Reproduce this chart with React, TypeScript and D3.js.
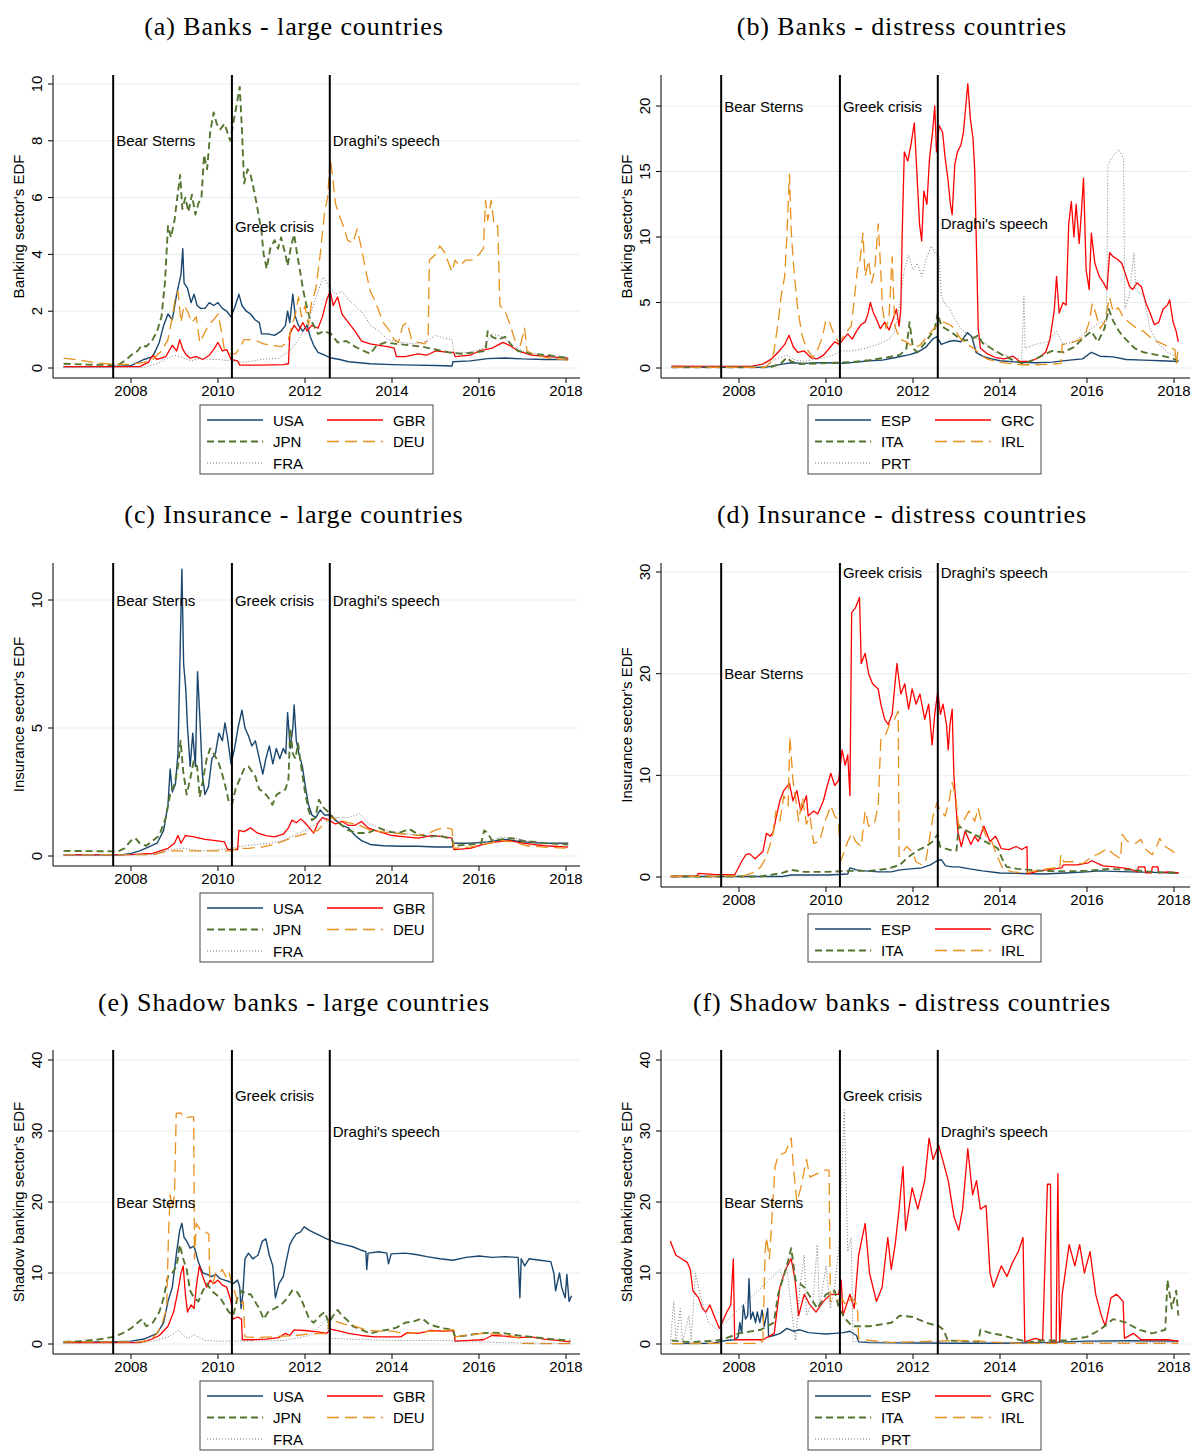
import React, { useEffect, useRef } from 'react';
import * as d3 from 'd3';

type Pt = [number, number];

// ---- (a) Banks - large countries
const aUSA: Pt[] = [[2006.45,0.05],[2007.5,0.05],[2008.0,0.08],[2008.3,0.3],[2008.5,0.4],[2008.65,0.9],[2008.75,1.5],[2008.85,1.9],[2008.95,1.7],[2009.05,2.6],[2009.15,3.3],[2009.19,4.2],[2009.22,3.0],[2009.3,2.8],[2009.38,2.3],[2009.45,2.6],[2009.52,2.2],[2009.6,2.1],[2009.7,2.1],[2009.8,2.3],[2009.9,2.2],[2010.0,2.3],[2010.1,2.1],[2010.2,2.0],[2010.3,1.8],[2010.4,2.2],[2010.48,2.6],[2010.55,2.2],[2010.65,2.0],[2010.75,1.9],[2010.85,1.7],[2010.95,1.6],[2011.0,1.2],[2011.15,1.2],[2011.3,1.15],[2011.45,1.3],[2011.55,1.5],[2011.6,2.0],[2011.65,1.6],[2011.72,2.6],[2011.78,1.8],[2011.85,1.5],[2011.95,1.3],[2012.05,1.5],[2012.12,1.1],[2012.2,0.8],[2012.3,0.55],[2012.45,0.45],[2012.6,0.35],[2012.8,0.3],[2013.0,0.22],[2013.5,0.15],[2014.0,0.12],[2014.5,0.1],[2015.0,0.09],[2015.38,0.07],[2015.4,0.22],[2015.8,0.25],[2016.2,0.33],[2016.6,0.35],[2017.0,0.32],[2017.5,0.3],[2018.05,0.3]];
const aGBR: Pt[] = [[2006.45,0.05],[2008.2,0.05],[2008.4,0.2],[2008.5,0.45],[2008.6,0.3],[2008.8,0.4],[2008.95,0.8],[2009.05,0.6],[2009.12,1.0],[2009.18,0.7],[2009.25,0.5],[2009.35,0.35],[2009.5,0.4],[2009.65,0.3],[2009.8,0.45],[2009.9,0.65],[2010.0,0.9],[2010.1,0.6],[2010.2,0.65],[2010.3,0.3],[2010.45,0.25],[2010.5,0.1],[2011.0,0.1],[2011.5,0.12],[2011.62,0.15],[2011.65,1.2],[2011.75,1.5],[2011.85,1.3],[2011.95,1.6],[2012.05,1.3],[2012.15,1.5],[2012.3,1.4],[2012.4,1.8],[2012.5,2.4],[2012.58,2.7],[2012.65,2.2],[2012.75,2.5],[2012.85,1.9],[2013.0,1.6],[2013.15,1.3],[2013.3,0.95],[2013.5,0.85],[2013.7,0.8],[2013.9,0.75],[2014.05,0.7],[2014.1,0.4],[2014.3,0.4],[2014.6,0.5],[2014.8,0.45],[2015.0,0.6],[2015.3,0.55],[2015.42,0.55],[2015.45,0.4],[2015.8,0.45],[2016.0,0.6],[2016.3,0.7],[2016.55,0.9],[2016.7,0.8],[2016.9,0.6],[2017.2,0.45],[2017.6,0.4],[2018.05,0.35]];
const aJPN: Pt[] = [[2006.45,0.15],[2007.0,0.12],[2007.7,0.1],[2007.9,0.3],[2008.0,0.45],[2008.15,0.6],[2008.25,0.8],[2008.35,0.75],[2008.5,1.0],[2008.6,1.3],[2008.7,1.8],[2008.78,3.0],[2008.85,5.0],[2008.92,4.6],[2009.0,5.2],[2009.08,6.2],[2009.13,6.8],[2009.18,5.6],[2009.25,6.0],[2009.32,5.5],[2009.4,6.1],[2009.48,5.4],[2009.55,5.8],[2009.62,6.0],[2009.68,7.5],[2009.75,7.0],[2009.82,8.3],[2009.9,9.0],[2009.97,8.6],[2010.05,8.4],[2010.15,8.6],[2010.28,8.0],[2010.35,8.6],[2010.42,9.2],[2010.5,9.9],[2010.55,8.4],[2010.6,6.5],[2010.68,7.0],[2010.75,6.8],[2010.85,6.1],[2010.92,5.5],[2011.0,4.8],[2011.05,4.0],[2011.12,3.5],[2011.2,4.2],[2011.3,4.5],[2011.38,4.2],[2011.45,4.6],[2011.55,4.0],[2011.6,3.6],[2011.68,4.3],[2011.75,4.7],[2011.82,4.0],[2011.9,3.3],[2011.95,2.8],[2012.02,2.3],[2012.1,1.8],[2012.2,1.5],[2012.3,1.2],[2012.45,1.3],[2012.6,1.2],[2012.75,0.9],[2012.95,0.95],[2013.15,0.75],[2013.35,0.6],[2013.5,0.5],[2013.65,0.8],[2013.85,0.9],[2014.1,0.85],[2014.4,0.8],[2014.7,0.75],[2015.0,0.65],[2015.3,0.55],[2015.6,0.5],[2015.9,0.55],[2016.15,0.6],[2016.2,1.3],[2016.3,1.1],[2016.45,1.0],[2016.6,1.1],[2016.75,0.8],[2016.9,0.6],[2017.2,0.5],[2017.6,0.45],[2018.05,0.35]];
const aDEU: Pt[] = [[2006.45,0.35],[2006.8,0.28],[2007.2,0.18],[2007.6,0.13],[2008.0,0.13],[2008.3,0.2],[2008.5,0.3],[2008.7,0.6],[2008.85,1.0],[2008.95,1.8],[2009.02,2.5],[2009.08,2.7],[2009.15,1.6],[2009.22,2.2],[2009.3,2.0],[2009.4,1.6],[2009.5,1.8],[2009.58,0.9],[2009.68,1.2],[2009.78,1.5],[2009.9,1.7],[2010.0,1.9],[2010.08,1.3],[2010.15,0.6],[2010.25,0.5],[2010.4,0.5],[2010.5,0.7],[2010.6,1.0],[2010.75,1.0],[2010.9,0.95],[2011.05,0.85],[2011.25,0.8],[2011.45,0.75],[2011.6,0.9],[2011.7,1.5],[2011.78,1.9],[2011.85,2.5],[2011.92,1.8],[2012.0,2.2],[2012.08,1.5],[2012.15,2.3],[2012.25,2.8],[2012.35,4.0],[2012.45,5.5],[2012.52,6.0],[2012.58,7.4],[2012.63,6.8],[2012.7,5.8],[2012.78,5.4],[2012.88,5.0],[2012.98,4.5],[2013.1,4.4],[2013.2,4.9],[2013.3,4.2],[2013.4,3.4],[2013.5,2.7],[2013.6,2.4],[2013.7,2.0],[2013.8,1.6],[2013.95,1.3],[2014.05,1.0],[2014.15,0.9],[2014.25,1.5],[2014.35,1.6],[2014.45,1.0],[2014.6,0.9],[2014.75,0.85],[2014.83,1.0],[2014.86,3.8],[2015.0,4.0],[2015.1,4.3],[2015.2,4.1],[2015.3,3.7],[2015.38,3.4],[2015.45,3.8],[2015.55,3.6],[2015.7,3.8],[2015.85,3.8],[2016.0,4.0],[2016.1,4.2],[2016.15,5.9],[2016.2,5.2],[2016.28,5.9],[2016.35,5.0],[2016.43,5.0],[2016.48,2.2],[2016.6,2.0],[2016.72,1.5],[2016.82,1.0],[2016.95,0.8],[2017.05,1.4],[2017.1,0.6],[2017.3,0.45],[2017.6,0.35],[2018.05,0.28]];
const aFRA: Pt[] = [[2006.45,0.02],[2008.3,0.02],[2008.6,0.15],[2008.85,0.35],[2009.0,0.45],[2009.2,0.35],[2009.4,0.25],[2009.6,0.35],[2009.8,0.3],[2010.0,0.3],[2010.3,0.25],[2010.6,0.2],[2011.0,0.3],[2011.4,0.35],[2011.65,0.6],[2011.85,1.0],[2012.0,1.4],[2012.15,2.0],[2012.3,2.7],[2012.42,3.2],[2012.55,2.9],[2012.7,2.6],[2012.85,2.7],[2013.0,2.4],[2013.15,2.2],[2013.35,1.9],[2013.5,1.5],[2013.7,1.3],[2013.9,1.0],[2014.2,0.9],[2014.5,0.85],[2014.8,0.95],[2015.0,1.15],[2015.2,1.05],[2015.38,1.0],[2015.42,0.55],[2015.8,0.55],[2016.1,0.7],[2016.3,1.2],[2016.55,1.1],[2016.75,0.8],[2017.0,0.6],[2017.4,0.45],[2018.05,0.35]];

// ---- (b) Banks - distress countries
const bESP: Pt[] = [[2006.45,0.05],[2008.6,0.05],[2008.85,0.2],[2009.0,0.3],[2009.2,0.4],[2009.5,0.35],[2009.8,0.4],[2010.1,0.4],[2010.4,0.35],[2010.7,0.45],[2011.0,0.55],[2011.3,0.6],[2011.6,0.8],[2011.9,1.0],[2012.1,1.2],[2012.3,1.6],[2012.45,2.2],[2012.55,2.4],[2012.65,1.8],[2012.8,2.0],[2012.95,2.1],[2013.1,2.0],[2013.25,2.7],[2013.35,2.4],[2013.45,1.2],[2013.6,0.9],[2013.8,0.7],[2014.0,0.55],[2014.4,0.45],[2014.8,0.4],[2015.2,0.45],[2015.6,0.6],[2015.9,0.7],[2016.1,1.2],[2016.3,0.9],[2016.6,0.85],[2016.9,0.65],[2017.3,0.6],[2017.7,0.55],[2018.1,0.5]];
const bGRC: Pt[] = [[2006.45,0.15],[2007.5,0.12],[2008.3,0.15],[2008.55,0.3],[2008.75,0.7],[2008.9,1.2],[2009.05,1.8],[2009.15,2.5],[2009.25,1.6],[2009.35,1.2],[2009.5,1.3],[2009.65,0.8],[2009.8,0.7],[2009.95,1.0],[2010.1,1.6],[2010.2,2.0],[2010.3,1.8],[2010.4,2.2],[2010.5,2.6],[2010.6,2.2],[2010.7,2.8],[2010.8,3.3],[2010.9,3.5],[2010.97,4.2],[2011.02,5.0],[2011.08,4.3],[2011.15,3.8],[2011.25,3.0],[2011.35,3.5],[2011.45,2.9],[2011.55,3.8],[2011.62,4.5],[2011.68,3.2],[2011.72,4.5],[2011.75,10],[2011.8,16.5],[2011.88,15.8],[2011.95,17.0],[2012.03,18.7],[2012.08,15.5],[2012.15,11.0],[2012.2,9.7],[2012.25,13.5],[2012.32,12.5],[2012.38,16.0],[2012.45,18.0],[2012.5,20.0],[2012.54,16.5],[2012.6,18.5],[2012.68,18.0],[2012.74,16.0],[2012.8,14.5],[2012.86,12.5],[2012.9,11.7],[2012.96,15.5],[2013.02,16.5],[2013.1,17.0],[2013.16,18.0],[2013.2,19.5],[2013.26,21.7],[2013.32,19.0],[2013.38,17.5],[2013.42,15.0],[2013.46,9.0],[2013.5,3.0],[2013.55,1.5],[2013.7,1.1],[2013.9,0.8],[2014.1,0.7],[2014.3,0.9],[2014.45,0.5],[2014.7,0.5],[2014.9,0.8],[2015.05,1.2],[2015.15,2.2],[2015.25,4.5],[2015.3,7.0],[2015.36,4.2],[2015.45,5.0],[2015.52,4.8],[2015.58,11.0],[2015.64,12.7],[2015.7,10.0],[2015.75,12.5],[2015.82,9.5],[2015.87,11.8],[2015.92,14.5],[2015.98,7.5],[2016.05,6.0],[2016.1,10.3],[2016.18,8.0],[2016.28,7.0],[2016.38,6.5],[2016.46,6.0],[2016.52,8.8],[2016.6,8.5],[2016.7,8.3],[2016.8,8.0],[2016.9,7.0],[2016.98,6.2],[2017.05,6.0],[2017.15,6.5],[2017.25,6.2],[2017.35,5.0],[2017.45,4.2],[2017.55,3.3],[2017.65,3.5],[2017.75,4.5],[2017.85,4.8],[2017.9,5.2],[2017.98,3.5],[2018.05,2.8],[2018.1,2.0]];
const bITA: Pt[] = [[2006.45,0.05],[2008.7,0.05],[2008.95,0.3],[2009.1,0.8],[2009.2,0.5],[2009.4,0.3],[2009.8,0.35],[2010.2,0.4],[2010.6,0.45],[2011.0,0.6],[2011.4,0.8],[2011.7,1.0],[2011.85,1.5],[2011.92,3.5],[2012.0,1.5],[2012.1,1.2],[2012.25,1.8],[2012.4,2.5],[2012.5,3.0],[2012.57,4.2],[2012.65,3.2],[2012.75,3.0],[2012.9,2.7],[2013.05,2.3],[2013.2,2.1],[2013.35,2.2],[2013.5,2.5],[2013.6,1.9],[2013.75,1.6],[2013.9,1.3],[2014.05,1.0],[2014.3,0.6],[2014.55,0.3],[2014.75,0.6],[2015.0,1.0],[2015.2,1.3],[2015.45,1.2],[2015.7,1.6],[2015.95,2.4],[2016.1,2.8],[2016.25,2.0],[2016.4,3.0],[2016.5,4.5],[2016.6,3.6],[2016.7,3.0],[2016.8,2.5],[2016.95,2.0],[2017.1,1.5],[2017.3,1.2],[2017.6,1.0],[2017.9,0.8],[2018.1,0.55]];
const bIRL: Pt[] = [[2006.45,0.05],[2008.6,0.05],[2008.72,0.4],[2008.8,1.2],[2008.9,3.5],[2008.97,5.5],[2009.05,7.0],[2009.1,10.0],[2009.16,14.8],[2009.2,10.5],[2009.25,8.0],[2009.3,6.2],[2009.35,4.5],[2009.45,2.5],[2009.55,1.5],[2009.7,0.8],[2009.82,1.5],[2009.92,2.4],[2010.0,3.7],[2010.08,3.5],[2010.18,2.6],[2010.28,2.0],[2010.38,2.3],[2010.48,2.8],[2010.58,3.2],[2010.65,5.2],[2010.72,7.5],[2010.78,8.2],[2010.85,10.3],[2010.9,7.0],[2010.98,8.2],[2011.05,6.5],[2011.12,7.5],[2011.2,11.0],[2011.25,8.0],[2011.3,4.5],[2011.38,3.0],[2011.45,4.0],[2011.52,8.5],[2011.58,3.2],[2011.7,2.2],[2011.85,2.0],[2012.0,1.6],[2012.15,1.7],[2012.3,2.3],[2012.45,2.9],[2012.58,3.3],[2012.7,3.5],[2012.85,3.3],[2012.95,3.0],[2013.1,2.2],[2013.25,1.8],[2013.4,1.5],[2013.55,1.0],[2013.7,0.7],[2013.9,0.5],[2014.2,0.35],[2014.5,0.25],[2014.9,0.25],[2015.2,0.3],[2015.4,0.35],[2015.43,1.8],[2015.6,1.9],[2015.8,2.1],[2015.95,2.5],[2016.05,3.5],[2016.12,4.9],[2016.2,4.2],[2016.3,3.0],[2016.4,3.5],[2016.52,5.4],[2016.6,4.3],[2016.72,4.6],[2016.85,3.8],[2017.0,3.4],[2017.15,3.0],[2017.3,2.8],[2017.5,2.2],[2017.7,1.9],[2017.9,1.6],[2018.02,1.4],[2018.05,0.3],[2018.1,1.5]];
const bPRT: Pt[] = [[2006.45,0.1],[2008.4,0.15],[2008.7,0.5],[2008.95,0.8],[2009.1,1.0],[2009.3,0.6],[2009.5,0.5],[2009.8,0.7],[2010.1,0.9],[2010.35,1.3],[2010.6,1.3],[2010.9,1.5],[2011.2,1.8],[2011.45,2.2],[2011.58,2.8],[2011.7,5.0],[2011.8,7.5],[2011.9,8.6],[2012.0,7.5],[2012.1,8.0],[2012.2,7.0],[2012.3,8.3],[2012.42,9.3],[2012.5,8.8],[2012.6,8.5],[2012.65,5.5],[2012.75,4.8],[2012.85,4.5],[2012.95,3.8],[2013.1,3.0],[2013.3,2.5],[2013.5,2.2],[2013.7,1.8],[2013.9,1.2],[2014.2,0.9],[2014.5,0.7],[2014.55,5.5],[2014.58,1.5],[2014.8,1.8],[2015.1,2.0],[2015.3,2.8],[2015.45,1.8],[2015.7,2.0],[2016.0,2.8],[2016.3,3.5],[2016.45,3.5],[2016.48,15.5],[2016.6,16.2],[2016.72,16.7],[2016.84,16.0],[2016.87,4.5],[2016.97,5.5],[2017.08,8.8],[2017.12,6.0],[2017.3,5.5],[2017.45,3.0],[2017.6,2.0],[2017.85,1.2],[2018.1,0.8]];

// ---- (c) Insurance - large countries
const cUSA: Pt[] = [[2006.45,0.05],[2007.8,0.05],[2008.0,0.1],[2008.2,0.2],[2008.4,0.35],[2008.6,0.5],[2008.75,1.0],[2008.85,2.0],[2008.9,3.4],[2008.95,2.5],[2009.02,2.8],[2009.08,4.0],[2009.13,8.0],[2009.17,11.2],[2009.21,7.5],[2009.26,6.5],[2009.3,5.0],[2009.36,3.5],[2009.42,4.8],[2009.48,3.5],[2009.53,7.2],[2009.58,5.5],[2009.64,3.2],[2009.7,2.4],[2009.78,2.7],[2009.86,3.8],[2009.94,4.0],[2010.02,4.8],[2010.1,4.5],[2010.16,5.2],[2010.22,4.6],[2010.3,3.6],[2010.38,4.2],[2010.46,5.0],[2010.55,5.7],[2010.62,5.0],[2010.7,4.7],[2010.78,4.3],[2010.86,4.5],[2010.95,3.8],[2011.03,3.2],[2011.1,3.8],[2011.18,4.3],[2011.26,3.6],[2011.34,4.2],[2011.42,3.8],[2011.5,4.2],[2011.56,4.0],[2011.6,5.6],[2011.66,4.2],[2011.72,5.0],[2011.75,5.9],[2011.8,4.5],[2011.86,4.0],[2011.94,3.5],[2012.0,2.8],[2012.08,2.0],[2012.16,1.6],[2012.25,1.5],[2012.35,1.8],[2012.45,1.6],[2012.55,1.6],[2012.7,1.4],[2012.85,1.2],[2013.0,1.1],[2013.15,0.8],[2013.3,0.6],[2013.5,0.45],[2013.8,0.4],[2014.2,0.38],[2014.6,0.38],[2015.0,0.35],[2015.38,0.35],[2015.42,0.5],[2015.8,0.5],[2016.2,0.55],[2016.6,0.65],[2017.0,0.55],[2017.5,0.5],[2018.05,0.5]];
const cGBR: Pt[] = [[2006.45,0.05],[2008.0,0.05],[2008.5,0.1],[2008.85,0.3],[2009.0,0.5],[2009.08,0.8],[2009.15,0.5],[2009.25,0.8],[2009.45,0.75],[2009.7,0.65],[2009.95,0.6],[2010.15,0.55],[2010.22,0.25],[2010.45,0.25],[2010.48,1.0],[2010.6,0.95],[2010.75,1.1],[2010.9,0.9],[2011.1,0.8],[2011.3,0.75],[2011.5,0.85],[2011.62,1.1],[2011.7,1.4],[2011.8,1.3],[2011.9,1.45],[2012.0,1.3],[2012.1,1.1],[2012.2,0.9],[2012.3,1.3],[2012.4,1.5],[2012.55,1.4],[2012.7,1.25],[2012.85,1.35],[2013.0,1.2],[2013.15,1.2],[2013.3,1.35],[2013.45,1.1],[2013.6,1.0],[2013.8,0.9],[2014.0,0.8],[2014.3,0.75],[2014.6,0.7],[2014.9,0.8],[2015.2,0.75],[2015.38,0.7],[2015.42,0.25],[2015.8,0.3],[2016.1,0.45],[2016.4,0.55],[2016.7,0.6],[2017.0,0.5],[2017.5,0.4],[2018.05,0.35]];
const cJPN: Pt[] = [[2006.45,0.2],[2007.7,0.18],[2007.85,0.3],[2008.0,0.6],[2008.1,0.7],[2008.2,0.5],[2008.35,0.4],[2008.5,0.6],[2008.65,0.8],[2008.8,1.5],[2008.9,2.4],[2009.0,2.8],[2009.08,3.5],[2009.14,4.5],[2009.2,3.3],[2009.28,2.4],[2009.36,3.0],[2009.44,3.7],[2009.52,3.5],[2009.58,2.3],[2009.66,3.0],[2009.74,3.8],[2009.82,4.2],[2009.9,4.0],[2010.0,3.7],[2010.08,3.3],[2010.16,2.8],[2010.25,2.1],[2010.32,2.0],[2010.4,2.6],[2010.5,3.0],[2010.6,3.4],[2010.7,3.5],[2010.78,3.3],[2010.86,3.1],[2010.95,2.6],[2011.05,2.5],[2011.15,2.3],[2011.25,2.0],[2011.35,2.4],[2011.45,2.5],[2011.55,2.6],[2011.62,3.0],[2011.66,5.0],[2011.72,4.0],[2011.78,3.8],[2011.84,4.4],[2011.92,3.4],[2012.0,2.5],[2012.08,1.8],[2012.16,1.4],[2012.24,1.5],[2012.32,2.2],[2012.42,1.9],[2012.55,1.7],[2012.7,1.4],[2012.85,1.2],[2013.0,1.0],[2013.2,0.9],[2013.45,0.9],[2013.7,1.1],[2013.9,0.95],[2014.15,0.9],[2014.4,1.05],[2014.6,0.85],[2014.85,0.75],[2015.1,0.8],[2015.38,0.65],[2015.42,0.4],[2015.8,0.45],[2016.05,0.5],[2016.12,1.0],[2016.2,0.9],[2016.3,0.6],[2016.5,0.65],[2016.75,0.7],[2017.0,0.6],[2017.5,0.5],[2018.05,0.45]];
const cDEU: Pt[] = [[2006.45,0.05],[2008.5,0.05],[2008.85,0.2],[2009.2,0.2],[2009.6,0.2],[2010.0,0.2],[2010.3,0.2],[2010.45,0.3],[2010.7,0.3],[2011.0,0.35],[2011.3,0.45],[2011.6,0.65],[2011.85,0.8],[2012.1,0.9],[2012.3,1.0],[2012.45,1.3],[2012.6,1.5],[2012.8,1.4],[2013.0,1.3],[2013.25,1.2],[2013.5,1.0],[2013.75,0.95],[2014.0,0.9],[2014.3,0.85],[2014.6,0.8],[2014.85,0.9],[2015.05,1.05],[2015.25,1.1],[2015.38,1.05],[2015.42,0.3],[2015.8,0.35],[2016.1,0.45],[2016.5,0.6],[2016.8,0.55],[2017.1,0.4],[2017.5,0.35],[2018.05,0.3]];
const cFRA: Pt[] = [[2006.45,0.05],[2008.5,0.05],[2008.9,0.25],[2009.2,0.3],[2009.6,0.2],[2010.0,0.25],[2010.3,0.3],[2010.6,0.4],[2010.9,0.45],[2011.2,0.5],[2011.5,0.6],[2011.8,0.85],[2012.1,1.1],[2012.4,1.4],[2012.7,1.5],[2013.0,1.5],[2013.25,1.65],[2013.45,1.3],[2013.7,1.1],[2014.0,0.95],[2014.4,0.85],[2014.8,0.8],[2015.2,0.75],[2015.38,0.7],[2015.42,0.5],[2015.8,0.5],[2016.2,0.55],[2016.5,0.75],[2016.8,0.7],[2017.2,0.55],[2017.6,0.5],[2018.05,0.5]];

// ---- (d) Insurance - distress countries
const dESP: Pt[] = [[2006.45,0.05],[2009.0,0.05],[2009.2,0.2],[2009.6,0.2],[2010.0,0.2],[2010.3,0.25],[2010.5,0.3],[2010.55,0.9],[2010.7,0.7],[2010.9,0.6],[2011.2,0.5],[2011.5,0.5],[2011.7,0.7],[2011.95,0.8],[2012.2,0.9],[2012.4,1.2],[2012.55,1.6],[2012.65,1.7],[2012.75,1.1],[2012.9,1.0],[2013.05,1.0],[2013.3,0.8],[2013.6,0.6],[2014.0,0.4],[2014.5,0.35],[2015.0,0.3],[2015.5,0.4],[2016.0,0.5],[2016.3,0.6],[2016.6,0.55],[2017.0,0.5],[2017.5,0.45],[2018.1,0.4]];
const dGRC: Pt[] = [[2006.42,0.05],[2007.03,0.1],[2007.06,0.35],[2007.42,0.25],[2007.9,0.2],[2008.07,1.6],[2008.16,2.2],[2008.24,2.3],[2008.37,1.8],[2008.55,2.5],[2008.63,4.3],[2008.72,4.0],[2008.79,4.5],[2008.85,5.8],[2008.94,7.5],[2009.03,8.5],[2009.16,9.2],[2009.24,7.5],[2009.33,8.5],[2009.42,6.5],[2009.55,8.0],[2009.59,6.0],[2009.72,6.5],[2009.81,6.2],[2009.94,7.5],[2010.03,9.0],[2010.11,10.2],[2010.2,9.0],[2010.29,9.5],[2010.37,12.5],[2010.44,11.0],[2010.5,12.0],[2010.55,8.0],[2010.59,26.0],[2010.68,26.5],[2010.77,27.5],[2010.81,21.0],[2010.9,22.0],[2010.98,20.0],[2011.07,19.0],[2011.2,18.5],[2011.26,17.0],[2011.35,15.5],[2011.43,15.0],[2011.52,16.0],[2011.63,21.0],[2011.72,18.0],[2011.81,19.0],[2011.9,16.5],[2011.98,18.5],[2012.07,17.0],[2012.16,18.0],[2012.27,15.5],[2012.36,17.0],[2012.44,13.0],[2012.5,16.0],[2012.57,18.3],[2012.63,16.0],[2012.69,17.0],[2012.77,15.0],[2012.81,12.5],[2012.85,15.0],[2012.9,16.5],[2012.94,10.0],[2013.03,4.5],[2013.11,3.0],[2013.2,4.5],[2013.33,3.2],[2013.42,4.0],[2013.5,3.5],[2013.63,5.0],[2013.77,3.5],[2013.9,4.0],[2014.03,2.8],[2014.2,2.7],[2014.37,3.0],[2014.5,2.7],[2014.62,3.0],[2014.63,0.3],[2014.9,0.6],[2015.24,0.8],[2015.42,0.9],[2015.46,1.2],[2015.77,1.2],[2016.03,1.4],[2016.11,1.6],[2016.37,1.1],[2016.63,1.0],[2016.98,0.8],[2017.16,0.5],[2017.18,1.0],[2017.33,1.0],[2017.35,0.4],[2017.48,0.4],[2017.5,1.0],[2017.63,1.0],[2017.65,0.4],[2017.85,0.5],[2018.11,0.4]];
const dITA: Pt[] = [[2006.45,0.05],[2008.5,0.05],[2009.0,0.4],[2009.2,0.7],[2009.5,0.5],[2010.0,0.5],[2010.5,0.6],[2011.0,0.6],[2011.4,0.8],[2011.7,1.2],[2011.9,2.0],[2012.1,2.6],[2012.3,3.0],[2012.45,3.5],[2012.57,4.2],[2012.62,3.0],[2012.75,2.8],[2012.9,2.6],[2013.0,2.6],[2013.05,5.0],[2013.2,4.6],[2013.35,4.3],[2013.5,4.0],[2013.65,3.5],[2013.8,3.2],[2013.95,2.8],[2014.05,1.8],[2014.15,1.0],[2014.4,0.8],[2014.7,0.7],[2015.0,0.6],[2015.5,0.55],[2016.0,0.6],[2016.5,0.8],[2017.0,0.7],[2017.5,0.5],[2018.1,0.4]];
const dIRL: Pt[] = [[2006.42,0.05],[2008.11,0.1],[2008.37,0.5],[2008.5,1.0],[2008.63,2.0],[2008.77,4.0],[2008.85,6.5],[2008.94,5.5],[2009.03,8.0],[2009.13,7.0],[2009.17,13.8],[2009.24,9.5],[2009.31,7.5],[2009.37,5.5],[2009.46,7.8],[2009.55,5.2],[2009.63,6.0],[2009.72,3.3],[2009.85,3.5],[2009.98,5.5],[2010.11,7.0],[2010.2,6.0],[2010.29,5.5],[2010.33,1.5],[2010.42,2.5],[2010.5,3.5],[2010.59,4.3],[2010.68,3.5],[2010.81,3.0],[2010.9,6.5],[2010.98,5.0],[2011.11,5.2],[2011.2,7.0],[2011.26,13.5],[2011.37,14.0],[2011.46,15.0],[2011.57,15.5],[2011.66,16.3],[2011.68,2.0],[2011.77,2.5],[2011.85,3.0],[2011.98,2.5],[2012.07,1.5],[2012.2,1.2],[2012.29,1.5],[2012.37,3.5],[2012.46,6.0],[2012.55,7.3],[2012.63,6.5],[2012.74,6.0],[2012.83,7.5],[2012.9,9.3],[2012.98,8.0],[2013.05,5.0],[2013.16,5.5],[2013.29,6.5],[2013.42,5.5],[2013.5,6.8],[2013.59,5.0],[2013.68,4.0],[2013.81,3.5],[2013.94,2.0],[2014.07,0.8],[2014.29,0.5],[2014.55,0.4],[2014.81,0.6],[2015.24,0.9],[2015.37,0.8],[2015.4,2.2],[2015.46,1.5],[2015.68,1.5],[2015.9,1.3],[2016.11,2.0],[2016.28,2.3],[2016.46,2.8],[2016.63,2.2],[2016.77,1.8],[2016.81,4.2],[2016.93,3.5],[2017.11,3.3],[2017.24,3.7],[2017.33,2.8],[2017.5,2.2],[2017.63,3.3],[2017.67,3.8],[2017.8,3.0],[2017.98,2.5],[2018.11,2.2]];

// ---- (e) Shadow banks - large countries
const eUSA: Pt[] = [[2006.45,0.3],[2007.5,0.3],[2008.0,0.4],[2008.3,0.7],[2008.6,1.5],[2008.75,3.0],[2008.85,6.0],[2008.95,8.0],[2009.05,13.0],[2009.12,16.0],[2009.17,17.0],[2009.22,15.0],[2009.28,14.5],[2009.36,13.5],[2009.45,13.8],[2009.55,11.5],[2009.65,10.0],[2009.75,9.8],[2009.85,9.5],[2009.95,9.8],[2010.05,9.2],[2010.15,9.0],[2010.25,8.8],[2010.35,8.5],[2010.45,9.0],[2010.5,8.0],[2010.53,5.0],[2010.57,7.0],[2010.62,12.0],[2010.7,12.8],[2010.8,12.0],[2010.92,12.5],[2011.02,14.5],[2011.1,14.8],[2011.18,12.5],[2011.26,11.0],[2011.32,6.5],[2011.4,8.5],[2011.5,9.5],[2011.58,12.0],[2011.65,14.0],[2011.72,14.8],[2011.8,15.5],[2011.9,15.8],[2011.98,16.5],[2012.1,16.0],[2012.3,15.4],[2012.5,14.8],[2012.7,14.3],[2012.9,14.0],[2013.1,13.7],[2013.3,13.2],[2013.4,13.0],[2013.42,10.5],[2013.45,12.8],[2013.7,13.0],[2013.88,12.8],[2013.92,11.3],[2013.98,12.7],[2014.3,12.8],[2014.55,12.6],[2014.8,12.3],[2015.1,12.0],[2015.4,11.8],[2015.7,12.2],[2016.0,12.4],[2016.3,12.2],[2016.6,12.3],[2016.9,12.2],[2016.94,6.5],[2016.97,12.0],[2017.05,11.0],[2017.15,12.0],[2017.4,11.8],[2017.65,11.6],[2017.72,10.0],[2017.76,7.5],[2017.85,10.0],[2017.9,8.0],[2017.98,6.5],[2018.02,9.8],[2018.07,6.0],[2018.13,6.8]];
const eGBR: Pt[] = [[2006.45,0.2],[2008.2,0.2],[2008.45,0.6],[2008.65,1.2],[2008.85,2.5],[2008.98,4.5],[2009.08,7.5],[2009.15,10.0],[2009.2,11.0],[2009.25,7.0],[2009.3,4.5],[2009.38,5.5],[2009.45,5.0],[2009.5,8.0],[2009.57,11.0],[2009.65,9.5],[2009.74,8.0],[2009.82,9.0],[2009.9,8.5],[2010.0,9.0],[2010.1,8.3],[2010.2,8.0],[2010.3,6.0],[2010.34,3.5],[2010.45,3.8],[2010.54,3.5],[2010.56,0.6],[2010.8,0.6],[2011.1,0.7],[2011.4,0.9],[2011.55,1.5],[2011.65,1.2],[2011.75,2.0],[2012.0,1.9],[2012.3,1.7],[2012.5,1.5],[2012.58,2.1],[2012.8,1.8],[2013.0,1.5],[2013.3,1.2],[2013.6,1.0],[2013.9,1.0],[2014.2,1.0],[2014.35,1.6],[2014.6,1.5],[2014.9,1.9],[2015.2,1.8],[2015.42,1.9],[2015.45,0.4],[2015.8,0.5],[2016.1,0.6],[2016.3,1.2],[2016.6,1.1],[2016.9,0.9],[2017.2,1.0],[2017.5,0.7],[2017.8,0.5],[2018.1,0.3]];
const eJPN: Pt[] = [[2006.45,0.3],[2006.8,0.4],[2007.2,0.6],[2007.6,1.0],[2007.8,1.5],[2008.0,2.2],[2008.15,3.0],[2008.25,3.5],[2008.35,2.5],[2008.5,3.0],[2008.65,4.5],[2008.75,6.5],[2008.85,9.5],[2008.95,10.0],[2009.05,11.0],[2009.12,14.0],[2009.2,12.0],[2009.28,10.5],[2009.36,7.5],[2009.45,6.5],[2009.55,6.0],[2009.65,7.5],[2009.75,8.5],[2009.85,7.5],[2009.95,7.0],[2010.05,6.5],[2010.15,5.5],[2010.25,4.5],[2010.35,4.0],[2010.45,6.5],[2010.55,7.5],[2010.65,7.0],[2010.75,7.0],[2010.85,6.0],[2010.95,5.0],[2011.05,3.5],[2011.15,4.5],[2011.3,5.0],[2011.45,5.5],[2011.6,6.5],[2011.7,7.5],[2011.8,7.5],[2011.9,6.5],[2012.0,5.0],[2012.1,3.5],[2012.2,3.0],[2012.35,4.0],[2012.45,4.5],[2012.55,3.0],[2012.65,4.0],[2012.75,4.8],[2012.85,4.0],[2012.95,3.5],[2013.1,2.5],[2013.3,2.0],[2013.5,1.5],[2013.7,1.8],[2013.9,2.0],[2014.1,2.3],[2014.3,3.0],[2014.5,3.2],[2014.7,3.6],[2014.85,2.8],[2015.0,2.5],[2015.2,2.2],[2015.4,2.0],[2015.45,1.0],[2015.7,1.2],[2016.0,1.5],[2016.3,1.6],[2016.6,1.5],[2016.9,1.2],[2017.2,1.0],[2017.5,0.8],[2017.8,0.6],[2018.1,0.5]];
const eDEU: Pt[] = [[2006.45,0.3],[2008.2,0.3],[2008.45,0.6],[2008.6,1.5],[2008.72,3.0],[2008.82,5.0],[2008.86,15.0],[2008.9,21.0],[2008.95,19.0],[2009.0,21.0],[2009.04,32.5],[2009.15,32.5],[2009.25,31.8],[2009.35,32.0],[2009.44,32.0],[2009.46,12.0],[2009.5,17.0],[2009.6,16.0],[2009.7,15.8],[2009.79,15.5],[2009.81,9.0],[2009.88,8.5],[2009.95,10.0],[2010.02,9.8],[2010.1,10.5],[2010.18,9.5],[2010.25,10.2],[2010.32,8.5],[2010.4,7.0],[2010.48,5.5],[2010.58,6.0],[2010.62,1.0],[2010.9,0.9],[2011.2,1.0],[2011.5,1.1],[2011.8,1.2],[2012.1,1.4],[2012.4,1.5],[2012.52,1.4],[2012.55,3.5],[2012.7,3.2],[2012.9,2.8],[2013.1,2.6],[2013.4,2.0],[2013.7,1.8],[2014.0,1.8],[2014.3,1.5],[2014.6,1.6],[2014.9,1.8],[2015.2,1.9],[2015.42,2.0],[2015.45,1.0],[2015.8,1.3],[2016.1,1.5],[2016.4,1.4],[2016.7,1.2],[2016.95,0.8],[2017.0,0.1],[2017.5,0.05],[2018.1,0.05]];
const eFRA: Pt[] = [[2006.45,0.1],[2008.3,0.2],[2008.6,0.5],[2008.85,1.0],[2009.0,1.5],[2009.1,2.0],[2009.2,1.2],[2009.3,0.8],[2009.45,1.3],[2009.55,1.0],[2009.7,0.5],[2010.0,0.4],[2010.5,0.4],[2011.0,0.45],[2011.5,0.5],[2011.8,0.8],[2012.1,1.2],[2012.35,2.5],[2012.5,3.5],[2012.58,0.8],[2013.0,0.7],[2013.5,0.6],[2014.0,0.5],[2014.5,0.5],[2015.0,0.5],[2015.4,0.45],[2015.45,0.3],[2016.0,0.3],[2016.5,0.2],[2017.0,0.15],[2018.1,0.1]];

// ---- (f) Shadow banks - distress countries
const fESP: Pt[] = [[2006.45,0.05],[2007.4,0.1],[2007.55,0.3],[2007.7,0.5],[2007.9,0.6],[2007.98,1.0],[2008.02,3.0],[2008.06,1.5],[2008.1,5.5],[2008.15,3.5],[2008.2,4.0],[2008.23,9.2],[2008.27,3.5],[2008.32,4.5],[2008.38,3.0],[2008.42,4.5],[2008.48,3.0],[2008.53,4.8],[2008.58,2.5],[2008.63,4.0],[2008.66,5.0],[2008.68,1.0],[2008.8,1.2],[2008.95,1.5],[2009.1,2.2],[2009.25,1.8],[2009.4,2.0],[2009.6,1.6],[2009.8,1.5],[2010.0,1.4],[2010.2,1.5],[2010.4,1.6],[2010.55,1.8],[2010.7,1.2],[2010.75,0.3],[2011.0,0.2],[2012.0,0.15],[2013.0,0.1],[2014.0,0.1],[2015.0,0.2],[2015.5,0.3],[2016.0,0.4],[2017.0,0.45],[2018.1,0.4]];
const fGRC: Pt[] = [[2006.42,14.5],[2006.55,12.5],[2006.68,12.0],[2006.81,11.5],[2006.88,10.5],[2006.94,7.5],[2007.07,6.5],[2007.16,5.0],[2007.24,4.5],[2007.33,5.5],[2007.46,3.5],[2007.55,2.2],[2007.61,3.0],[2007.72,4.5],[2007.81,5.5],[2007.87,12.0],[2007.9,0.6],[2008.55,0.6],[2008.81,1.5],[2008.94,8.0],[2009.07,10.5],[2009.2,12.0],[2009.29,9.0],[2009.37,4.0],[2009.5,7.0],[2009.63,5.5],[2009.77,4.5],[2009.94,6.0],[2010.11,7.0],[2010.29,7.0],[2010.35,9.0],[2010.39,4.0],[2010.55,7.0],[2010.65,5.0],[2010.75,12.5],[2010.9,17.0],[2011.0,10.0],[2011.16,6.0],[2011.29,8.0],[2011.42,15.0],[2011.5,10.5],[2011.59,14.0],[2011.68,19.0],[2011.77,25.0],[2011.83,16.0],[2011.98,22.0],[2012.11,19.0],[2012.27,23.0],[2012.37,29.0],[2012.46,26.0],[2012.59,28.0],[2012.68,26.0],[2012.81,23.0],[2012.94,18.0],[2013.05,16.0],[2013.14,19.0],[2013.26,27.5],[2013.37,21.0],[2013.46,23.0],[2013.55,19.0],[2013.68,19.5],[2013.77,10.0],[2013.85,8.0],[2014.03,11.0],[2014.16,9.5],[2014.29,11.5],[2014.42,13.0],[2014.53,15.0],[2014.57,0.3],[2014.81,0.8],[2014.98,0.5],[2015.09,22.5],[2015.16,22.5],[2015.18,0.3],[2015.29,0.3],[2015.33,24.0],[2015.37,0.3],[2015.43,7.0],[2015.59,14.0],[2015.72,11.0],[2015.83,14.0],[2015.94,10.0],[2016.07,13.0],[2016.2,7.0],[2016.33,4.0],[2016.42,2.5],[2016.55,6.5],[2016.68,7.0],[2016.83,6.0],[2016.86,0.8],[2017.07,1.5],[2017.24,0.6],[2017.85,0.6],[2018.11,0.4]];
const fITA: Pt[] = [[2006.45,0.5],[2006.8,0.3],[2007.0,0.3],[2007.5,0.5],[2007.7,0.8],[2008.0,1.5],[2008.5,2.0],[2008.8,3.0],[2008.9,7.0],[2009.1,11.0],[2009.2,13.5],[2009.3,9.0],[2009.5,8.0],[2009.7,6.0],[2009.8,5.0],[2010.0,7.0],[2010.2,7.5],[2010.3,5.0],[2010.45,3.5],[2010.6,2.5],[2011.0,2.5],[2011.5,3.0],[2011.7,4.0],[2012.0,3.8],[2012.3,3.0],[2012.6,2.5],[2012.7,2.0],[2012.8,0.5],[2013.5,0.3],[2013.55,2.0],[2013.8,1.5],[2014.0,1.3],[2014.5,0.5],[2014.6,0.2],[2015.0,0.5],[2015.5,0.5],[2016.0,1.0],[2016.3,2.0],[2016.6,3.5],[2016.9,3.0],[2017.2,2.0],[2017.5,1.5],[2017.8,2.0],[2017.85,9.0],[2017.95,5.0],[2018.05,7.5],[2018.1,4.0]];
const fIRL: Pt[] = [[2006.45,0.05],[2008.5,0.1],[2008.55,0.5],[2008.6,13.0],[2008.63,15.0],[2008.7,12.0],[2008.77,19.0],[2008.83,25.0],[2008.9,26.5],[2009.07,27.0],[2009.2,29.0],[2009.25,25.0],[2009.33,20.0],[2009.42,22.0],[2009.55,26.0],[2009.63,23.5],[2009.8,24.0],[2009.98,24.5],[2010.07,24.5],[2010.1,6.0],[2010.24,6.0],[2010.35,6.5],[2010.46,5.5],[2010.59,6.5],[2010.72,5.5],[2010.75,0.8],[2011.0,0.5],[2011.5,0.2],[2012.0,0.3],[2013.0,0.5],[2013.5,0.4],[2014.0,0.2],[2014.5,0.1],[2015.0,0.1],[2018.1,0.1]];
const fPRT: Pt[] = [[2006.42,0.1],[2006.5,6.0],[2006.55,0.2],[2006.65,5.0],[2006.7,0.3],[2006.85,4.0],[2006.9,0.5],[2007.0,10.0],[2007.1,7.0],[2007.2,5.0],[2007.3,3.0],[2007.5,2.0],[2008.95,10.5],[2009.0,9.0],[2009.1,11.0],[2009.2,5.0],[2009.3,0.5],[2009.4,8.0],[2009.5,12.5],[2009.55,4.0],[2009.7,6.0],[2009.8,14.0],[2009.85,5.0],[2010.0,11.0],[2010.1,5.0],[2010.2,8.0],[2010.3,14.0],[2010.42,33.0],[2010.5,13.0],[2010.58,15.0],[2010.62,0.3],[2018.1,0.2]];

const yearTicks = [2008, 2010, 2012, 2014, 2016, 2018];
const eventNames = ['Bear Sterns', 'Greek crisis', "Draghi's speech"];
const eventYears = [2007.59, 2010.32, 2012.57];
const largeNames = ['USA', 'GBR', 'JPN', 'DEU', 'FRA'];
const distressNames = ['ESP', 'GRC', 'ITA', 'IRL', 'PRT'];

const styles = [
  { color: '#1a476f', width: 1.4, dash: null },
  { color: '#ff0000', width: 1.3, dash: null },
  { color: '#55752f', width: 1.9, dash: '7,4' },
  { color: '#e8901c', width: 1.3, dash: '12,6' },
  { color: '#7a7a7a', width: 1, dash: '1,2' },
];

const panels = [
  { title: '(a) Banks - large countries', side: 0, top: 75, base: 378, y0: 368, yMax: 10, yPx: 84, ticks: [0, 2, 4, 6, 8, 10], yTitle: "Banking sector's EDF", titleY: 26, names: largeNames, series: [aUSA, aGBR, aJPN, aDEU, aFRA], ev: [8, 5, 8] },
  { title: '(b) Banks - distress countries', side: 1, top: 75, base: 378, y0: 368, yMax: 20, yPx: 106, ticks: [0, 5, 10, 15, 20], yTitle: "Banking sector's EDF", titleY: 26, names: distressNames, series: [bESP, bGRC, bITA, bIRL, bPRT], ev: [20, 20, 11] },
  { title: '(c) Insurance - large countries', side: 0, top: 563, base: 866, y0: 856, yMax: 10, yPx: 600, ticks: [0, 5, 10], yTitle: "Insurance sector's EDF", titleY: 514, names: largeNames, series: [cUSA, cGBR, cJPN, cDEU, cFRA], ev: [10, 10, 10] },
  { title: '(d) Insurance - distress countries', side: 1, top: 563, base: 887, y0: 877, yMax: 30, yPx: 572, ticks: [0, 10, 20, 30], yTitle: "Insurance sector's EDF", titleY: 514, names: distressNames.slice(0, 4), series: [dESP, dGRC, dITA, dIRL], ev: [20, 30, 30] },
  { title: '(e) Shadow banks - large countries', side: 0, top: 1050, base: 1354, y0: 1344, yMax: 40, yPx: 1060, ticks: [0, 10, 20, 30, 40], yTitle: "Shadow banking sector's EDF", titleY: 1002, names: largeNames, series: [eUSA, eGBR, eJPN, eDEU, eFRA], ev: [20, 35, 30] },
  { title: '(f) Shadow banks - distress countries', side: 1, top: 1050, base: 1354, y0: 1344, yMax: 40, yPx: 1060, ticks: [0, 10, 20, 30, 40], yTitle: "Shadow banking sector's EDF", titleY: 1002, names: distressNames, series: [fESP, fGRC, fITA, fIRL, fPRT], ev: [20, 35, 30] },
];

const sans = 'Liberation Sans, Arial, sans-serif';

export default function App() {
  const svgRef = useRef<SVGSVGElement>(null);

  useEffect(() => {
    const svg = d3.select(svgRef.current);
    svg.selectAll('*').remove();
    svg.append('rect').attr('width', 1193).attr('height', 1451).attr('fill', '#fff');

    panels.forEach(p => {
      const off = p.side * 608;
      const left = 53 + off;
      const right = 580 + off + (p.side ? 2 : 0);
      const x = d3.scaleLinear().domain([2008, 2018]).range([131 + off, 566 + off]);
      const y = d3.scaleLinear().domain([0, p.yMax]).range([p.y0, p.yPx]);
      const g = svg.append('g');

      // title
      g.append('text')
        .attr('x', 294 + off).attr('y', p.titleY).attr('text-anchor', 'middle')
        .attr('dominant-baseline', 'central')
        .attr('font-family', 'Liberation Serif, Times New Roman, serif').attr('font-size', 26)
        .attr('letter-spacing', 0.9)
        .text(p.title);

      // gridlines
      g.selectAll('.grid').data(p.ticks).join('line')
        .attr('x1', left).attr('x2', right)
        .attr('y1', d => y(d)).attr('y2', d => y(d))
        .attr('stroke', '#e6eef0').attr('stroke-width', 1);

      // axes
      g.append('line').attr('x1', left).attr('x2', left).attr('y1', p.top).attr('y2', p.base)
        .attr('stroke', '#000').attr('stroke-width', 1);
      g.append('line').attr('x1', left).attr('x2', right).attr('y1', p.base).attr('y2', p.base)
        .attr('stroke', '#000').attr('stroke-width', 1);

      // y ticks
      p.ticks.forEach(t => {
        g.append('line').attr('x1', left - 5).attr('x2', left).attr('y1', y(t)).attr('y2', y(t))
          .attr('stroke', '#000');
        g.append('text')
          .attr('transform', `translate(${left - 17},${y(t)}) rotate(-90)`)
          .attr('text-anchor', 'middle').attr('dominant-baseline', 'central')
          .attr('font-family', sans).attr('font-size', 15).text(t);
      });
      g.append('text')
        .attr('transform', `translate(${18 + off},${(p.top + p.base) / 2}) rotate(-90)`)
        .attr('text-anchor', 'middle').attr('dominant-baseline', 'central')
        .attr('font-family', sans).attr('font-size', 15).text(p.yTitle);

      // x ticks
      yearTicks.forEach(t => {
        g.append('line').attr('x1', x(t)).attr('x2', x(t)).attr('y1', p.base).attr('y2', p.base + 5)
          .attr('stroke', '#000');
        g.append('text').attr('x', x(t)).attr('y', p.base + 12)
          .attr('text-anchor', 'middle').attr('dominant-baseline', 'central')
          .attr('font-family', sans).attr('font-size', 15).text(t);
      });

      // series
      const line = d3.line<Pt>().x(d => x(d[0])).y(d => y(d[1]));
      p.series.forEach((s, i) => {
        const st = styles[i];
        g.append('path').attr('d', line(s))
          .attr('fill', 'none').attr('stroke', st.color).attr('stroke-width', st.width)
          .attr('stroke-linejoin', 'round')
          .attr('stroke-dasharray', st.dash);
      });

      // event lines
      eventYears.forEach((ey, i) => {
        g.append('line').attr('x1', x(ey)).attr('x2', x(ey)).attr('y1', p.top).attr('y2', p.base)
          .attr('stroke', '#000').attr('stroke-width', 2);
        g.append('text').attr('x', x(ey) + 3).attr('y', y(p.ev[i]))
          .attr('dominant-baseline', 'central')
          .attr('font-family', sans).attr('font-size', 15).text(eventNames[i]);
      });

      // legend
      const lx = 200 + off;
      const ly = p.base + 27;
      const rows = Math.ceil(p.names.length / 2);
      g.append('rect').attr('x', lx).attr('y', ly).attr('width', 233).attr('height', rows === 3 ? 69 : 48)
        .attr('fill', '#fff').attr('stroke', '#444').attr('stroke-width', 1);
      p.names.forEach((n, i) => {
        const col = i % 2;
        const row = Math.floor(i / 2);
        const yy = ly + 15 + row * 21.5;
        const x0 = lx + 7 + col * 120;
        const st = styles[i];
        g.append('line').attr('x1', x0).attr('x2', x0 + 56).attr('y1', yy).attr('y2', yy)
          .attr('stroke', st.color).attr('stroke-width', st.width).attr('stroke-dasharray', st.dash);
        g.append('text').attr('x', x0 + 66).attr('y', yy).attr('dominant-baseline', 'central')
          .attr('font-family', sans).attr('font-size', 15).text(n);
      });
    });
  }, []);

  return (
    <div style={{ position: 'absolute', left: 0, top: 0 }}>
      <svg ref={svgRef} width={1193} height={1451} style={{ display: 'block' }}></svg>
    </div>
  );
}
